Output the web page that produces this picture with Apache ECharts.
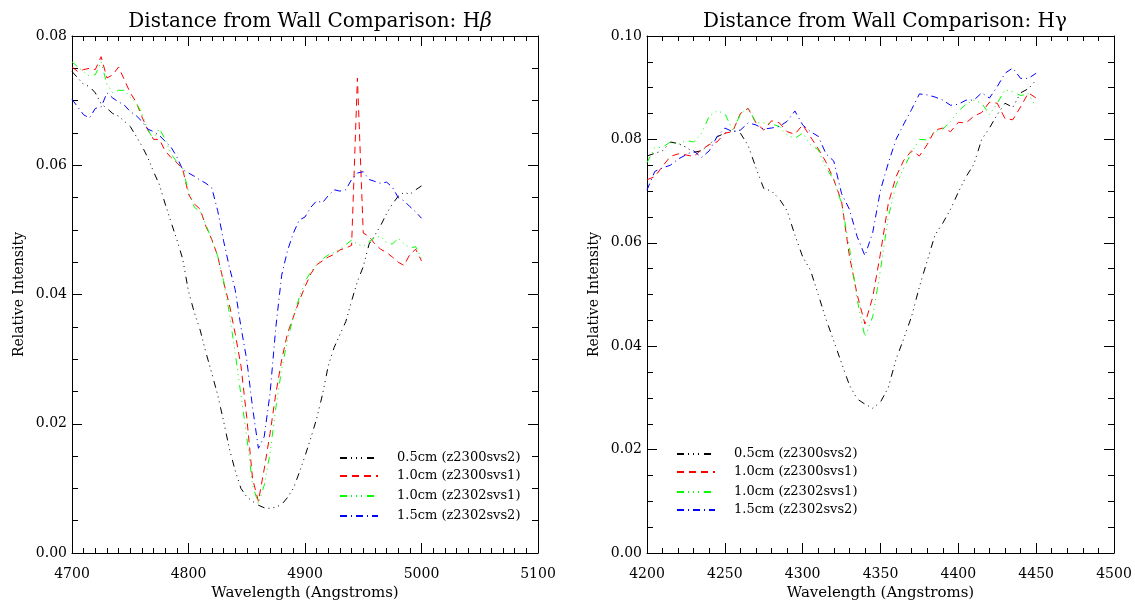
<!DOCTYPE html>
<html>
<head>
<meta charset="utf-8">
<title>Distance from Wall Comparison</title>
<script src="https://cdn.jsdelivr.net/npm/echarts@6/dist/echarts.min.js"></script>
<style>
  html, body { margin: 0; padding: 0; background: #ffffff; }
  #chart { width: 1135px; height: 606px; }
</style>
</head>
<body>
<div id="chart"></div>
<script>
// Legend labels (distance from wall, run id)
const seriesNames = ['0.5cm (z2300svs2)', '1.0cm (z2300svs1)', '1.0cm (z2302svs1)', '1.5cm (z2302svs2)'];

// ---------- H-beta panel ----------
const hbWave = [
  4700, 4705, 4710, 4715, 4720, 4725, 4730, 4735, 4740, 4745,
  4750, 4755, 4760, 4765, 4770, 4775, 4780, 4785, 4790, 4795,
  4800, 4805, 4810, 4815, 4820, 4825, 4830, 4835, 4840, 4845,
  4850, 4855, 4860, 4865, 4870, 4875, 4880, 4885, 4890, 4895,
  4900, 4905, 4910, 4915, 4920, 4925, 4930, 4935, 4940, 4945,
  4950, 4955, 4960, 4965, 4970, 4975, 4980, 4985, 4990, 4995,
  5000
];
const hb_05_z2300svs2 = [
  0.0745, 0.0735, 0.0725, 0.0722, 0.0712, 0.0695, 0.0688, 0.0680, 0.0676, 0.0668,
  0.0660, 0.0645, 0.0630, 0.0612, 0.0590, 0.0570, 0.0540, 0.0512, 0.0485, 0.0455,
  0.0405, 0.0372, 0.0345, 0.0310, 0.0278, 0.0245, 0.0205, 0.0162, 0.0128, 0.0100,
  0.0087, 0.0080, 0.0074, 0.0070, 0.0069, 0.0071, 0.0075, 0.0086, 0.0100, 0.0124,
  0.0150, 0.0178, 0.0208, 0.0245, 0.0290, 0.0318, 0.0338, 0.0358, 0.0390, 0.0420,
  0.0443, 0.0478, 0.0492, 0.0507, 0.0525, 0.0540, 0.0552, 0.0558, 0.0555, 0.0562,
  0.0568
];
const hb_10_z2300svs1 = [
  0.0752, 0.0745, 0.0748, 0.0750, 0.0748, 0.0768, 0.0735, 0.0740, 0.0752, 0.0732,
  0.0712, 0.0698, 0.0675, 0.0655, 0.0640, 0.0640, 0.0622, 0.0612, 0.0604, 0.0594,
  0.0555, 0.0540, 0.0532, 0.0505, 0.0485, 0.0460, 0.0420, 0.0385, 0.0340, 0.0290,
  0.0210, 0.0115, 0.0080, 0.0130, 0.0185, 0.0247, 0.0299, 0.0340, 0.0365, 0.0390,
  0.0412, 0.0432, 0.0446, 0.0452, 0.0458, 0.0462, 0.0469, 0.0472, 0.0476, 0.0735,
  0.0495, 0.0490, 0.0478, 0.0470, 0.0465, 0.0458, 0.0450, 0.0445, 0.0462, 0.0470,
  0.0452
];
const hb_10_z2302svs1 = [
  0.0760, 0.0752, 0.0745, 0.0738, 0.0740, 0.0760, 0.0725, 0.0712, 0.0716, 0.0716,
  0.0705, 0.0697, 0.0680, 0.0655, 0.0640, 0.0657, 0.0640, 0.0618, 0.0605, 0.0595,
  0.0560, 0.0535, 0.0528, 0.0508, 0.0484, 0.0460, 0.0422, 0.0372, 0.0310, 0.0245,
  0.0180, 0.0105, 0.0076, 0.0105, 0.0155, 0.0225, 0.0285, 0.0330, 0.0365, 0.0395,
  0.0420, 0.0435, 0.0446, 0.0455, 0.0461, 0.0465, 0.0470, 0.0477, 0.0484, 0.0478,
  0.0474, 0.0482, 0.0488, 0.0490, 0.0480, 0.0478, 0.0487, 0.0479, 0.0472, 0.0474,
  0.0456
];
const hb_15_z2302svs2 = [
  0.0702, 0.0690, 0.0678, 0.0673, 0.0688, 0.0690, 0.0712, 0.0704, 0.0698, 0.0693,
  0.0683, 0.0677, 0.0668, 0.0656, 0.0652, 0.0646, 0.0637, 0.0628, 0.0613, 0.0593,
  0.0588, 0.0583, 0.0577, 0.0572, 0.0565, 0.0530, 0.0484, 0.0443, 0.0408, 0.0350,
  0.0299, 0.0225, 0.0162, 0.0180, 0.0247, 0.0350, 0.0430, 0.0468, 0.0495, 0.0515,
  0.0520, 0.0535, 0.0545, 0.0542, 0.0553, 0.0562, 0.0560, 0.0562, 0.0578, 0.0588,
  0.0590, 0.0578, 0.0575, 0.0572, 0.0574, 0.0566, 0.0550, 0.0545, 0.0536, 0.0528,
  0.0518
];

// ---------- H-gamma panel ----------
const hgWave = [
  4200, 4205, 4210, 4215, 4220, 4225, 4230, 4235, 4240, 4245,
  4250, 4255, 4260, 4265, 4270, 4275, 4280, 4285, 4290, 4295,
  4300, 4305, 4310, 4315, 4320, 4325, 4330, 4335, 4340, 4345,
  4350, 4355, 4360, 4365, 4370, 4375, 4380, 4385, 4390, 4395,
  4400, 4405, 4410, 4415, 4420, 4425, 4430, 4435, 4440, 4445,
  4450
];
const hg_05_z2300svs2 = [
  0.0768, 0.0773, 0.0778, 0.0795, 0.0792, 0.0785, 0.0775, 0.0778, 0.0790, 0.0805,
  0.0812, 0.0818, 0.0812, 0.0788, 0.0745, 0.0705, 0.0700, 0.0685, 0.0662, 0.0615,
  0.0573, 0.0547, 0.0500, 0.0452, 0.0410, 0.0367, 0.0325, 0.0298, 0.0288, 0.0280,
  0.0292, 0.0320, 0.0375, 0.0415, 0.0458, 0.0515, 0.0565, 0.0615, 0.0638, 0.0665,
  0.0698, 0.0728, 0.0752, 0.0800, 0.0822, 0.0848, 0.0870, 0.0862, 0.0890, 0.0898,
  0.0915
];
const hg_10_z2300svs1 = [
  0.0722, 0.0728, 0.0748, 0.0767, 0.0772, 0.0770, 0.0767, 0.0780, 0.0790, 0.0795,
  0.0812, 0.0815, 0.0850, 0.0860, 0.0832, 0.0818, 0.0836, 0.0832, 0.0815, 0.0810,
  0.0828, 0.0805, 0.0782, 0.0756, 0.0722, 0.0680, 0.0575, 0.0500, 0.0443, 0.0495,
  0.0580, 0.0676, 0.0728, 0.0760, 0.0778, 0.0768, 0.0790, 0.0818, 0.0822, 0.0815,
  0.0833, 0.0832, 0.0845, 0.0852, 0.0872, 0.0870, 0.0840, 0.0838, 0.0863, 0.0890,
  0.0880
];
const hg_10_z2302svs1 = [
  0.0755, 0.0784, 0.0785, 0.0795, 0.0790, 0.0798, 0.0795, 0.0812, 0.0845, 0.0855,
  0.0850, 0.0818, 0.0848, 0.0862, 0.0832, 0.0832, 0.0830, 0.0825, 0.0808, 0.0802,
  0.0812, 0.0790, 0.0780, 0.0745, 0.0722, 0.0676, 0.0592, 0.0490, 0.0418, 0.0457,
  0.0548, 0.0650, 0.0712, 0.0745, 0.0775, 0.0800, 0.0799, 0.0815, 0.0820, 0.0835,
  0.0855, 0.0868, 0.0876, 0.0870, 0.0848, 0.0870, 0.0896, 0.0892, 0.0885, 0.0888,
  0.0862
];
const hg_15_z2302svs2 = [
  0.0702, 0.0738, 0.0745, 0.0750, 0.0762, 0.0770, 0.0778, 0.0765, 0.0778, 0.0805,
  0.0822, 0.0815, 0.0818, 0.0832, 0.0828, 0.0820, 0.0822, 0.0825, 0.0835, 0.0855,
  0.0828, 0.0815, 0.0806, 0.0772, 0.0758, 0.0695, 0.0665, 0.0612, 0.0575, 0.0620,
  0.0702, 0.0754, 0.0800, 0.0830, 0.0858, 0.0888, 0.0886, 0.0882, 0.0876, 0.0866,
  0.0868, 0.0876, 0.0876, 0.0890, 0.0880, 0.0902, 0.0928, 0.0938, 0.0918, 0.0918,
  0.0928
];

// Tick labels
const hbTicks = [4700, 4800, 4900, 5000, 5100];
const hgTicks = [4200, 4250, 4300, 4350, 4400, 4450, 4500];
const yTicks = ['0.00', '0.02', '0.04', '0.06', '0.08', '0.10'];

const FONT = 'DejaVu Serif';
const colors = ['#000000', '#ff0000', '#00ff00', '#0000ff'];
// dash-dot-dot-dot, dashed, dash-dot-dot-dot, dash-dot
const dashes = [[7, 4, 1, 4, 1, 4, 1, 5], [7, 5], [7, 4, 1, 4, 1, 4, 1, 5], [7, 4, 1, 4]];

function pairs(xs, ys) {
  return xs.map((x, i) => [x, ys[i]]);
}

function xAxisPair(gridIndex, min, max, interval, minorSplit) {
  const common = {
    type: 'value', gridIndex, min, max, interval,
    axisLine: { show: true, onZero: false, lineStyle: { color: '#000', width: 1 } },
    axisTick: { show: true, inside: true, length: 10, lineStyle: { color: '#000', width: 1 } },
    minorTick: { show: true, splitNumber: minorSplit, length: 5, lineStyle: { color: '#000', width: 1 } },
    splitLine: { show: false },
    minorSplitLine: { show: false }
  };
  return [
    Object.assign({}, common, {
      position: 'bottom',
      axisLabel: { show: true, margin: 14, color: '#000', fontFamily: FONT, fontSize: 14,
                   formatter: v => String(v) },
      name: 'Wavelength (Angstroms)', nameLocation: 'middle', nameGap: 30,
      nameTextStyle: { color: '#000', fontFamily: FONT, fontSize: 15 }
    }),
    Object.assign({}, common, { position: 'top', axisLabel: { show: false } })
  ];
}

function yAxisPair(gridIndex, max) {
  const common = {
    type: 'value', gridIndex, min: 0, max, interval: 0.02,
    axisLine: { show: true, onZero: false, lineStyle: { color: '#000', width: 1 } },
    axisTick: { show: true, inside: true, length: 10, lineStyle: { color: '#000', width: 1 } },
    minorTick: { show: true, splitNumber: 4, length: 6, lineStyle: { color: '#000', width: 1 } },
    splitLine: { show: false },
    minorSplitLine: { show: false }
  };
  return [
    Object.assign({}, common, {
      position: 'left',
      axisLabel: { show: true, margin: 5, color: '#000', fontFamily: FONT, fontSize: 14,
                   formatter: v => yTicks[Math.round(v / 0.02)] },
      name: 'Relative Intensity', nameLocation: 'middle', nameGap: 46,
      nameTextStyle: { color: '#000', fontFamily: FONT, fontSize: 14 }
    }),
    Object.assign({}, common, { position: 'right', axisLabel: { show: false } })
  ];
}

function lineSeries(name, idx, xAxisIndex, yAxisIndex, xs, ys) {
  return {
    type: 'line', name, xAxisIndex, yAxisIndex,
    data: pairs(xs, ys),
    symbol: 'none', smooth: false,
    lineStyle: { color: colors[idx], width: 1, type: dashes[idx].slice() },
    itemStyle: { color: colors[idx] },
    emphasis: { disabled: true },
    z: 2 + idx
  };
}

const hbSeries = [hb_05_z2300svs2, hb_10_z2300svs1, hb_10_z2302svs1, hb_15_z2302svs2];
const hgSeries = [hg_05_z2300svs2, hg_10_z2300svs1, hg_10_z2302svs1, hg_15_z2302svs2];

const series = [];
hbSeries.forEach((ys, i) => series.push(lineSeries(seriesNames[i], i, 0, 0, hbWave, ys)));
hgSeries.forEach((ys, i) => series.push(lineSeries(seriesNames[i], i, 2, 2, hgWave, ys)));

// Key boxes drawn as graphic elements: a dashed line sample plus its label.
function legendGraphic(lineX, textX, firstRowY, rowStep) {
  const els = [];
  seriesNames.forEach((name, i) => {
    const y = 2 * Math.round((firstRowY + i * rowStep) / 2);
    els.push({
      type: 'line', silent: true,
      shape: { x1: lineX, y1: y, x2: lineX + 38, y2: y },
      style: { stroke: colors[i], lineWidth: 2, lineDash: dashes[i].slice() }
    });
    els.push({
      type: 'text', silent: true, x: textX, y: y,
      style: { text: name, fill: '#000', font: '13px "' + FONT + '"', align: 'left', verticalAlign: 'middle' }
    });
  });
  return els;
}

const titleStyle = {
  color: '#000', fontFamily: FONT, fontSize: 20, fontWeight: 'normal',
  rich: { it: { fontFamily: FONT, fontSize: 20, fontStyle: 'italic', color: '#000' } }
};

const option = {
  animation: false,
  backgroundColor: '#ffffff',
  title: [
    { text: 'Distance from Wall Comparison: H{it|β}', left: 305, top: 7, textAlign: 'center', textStyle: titleStyle },
    { text: 'Distance from Wall Comparison: Hγ', left: 880, top: 7, textAlign: 'center', textStyle: titleStyle }
  ],
  grid: [
    { left: 72, top: 36, width: 466, height: 517, containLabel: false },
    { left: 647, top: 36, width: 467, height: 517, containLabel: false }
  ],
  xAxis: [
    ...xAxisPair(0, hbTicks[0], hbTicks[hbTicks.length - 1], hbTicks[1] - hbTicks[0], 10),
    ...xAxisPair(1, hgTicks[0], hgTicks[hgTicks.length - 1], hgTicks[1] - hgTicks[0], 5)
  ],
  yAxis: [
    ...yAxisPair(0, 0.08),
    ...yAxisPair(1, 0.10)
  ],
  graphic: [
    ...legendGraphic(340, 397, 457, 19.7),
    ...legendGraphic(677, 734, 453, 19)
  ],
  series
};

const chart = echarts.init(document.getElementById('chart'), null, { renderer: 'canvas' });
chart.setOption(option);
</script>
</body>
</html>
